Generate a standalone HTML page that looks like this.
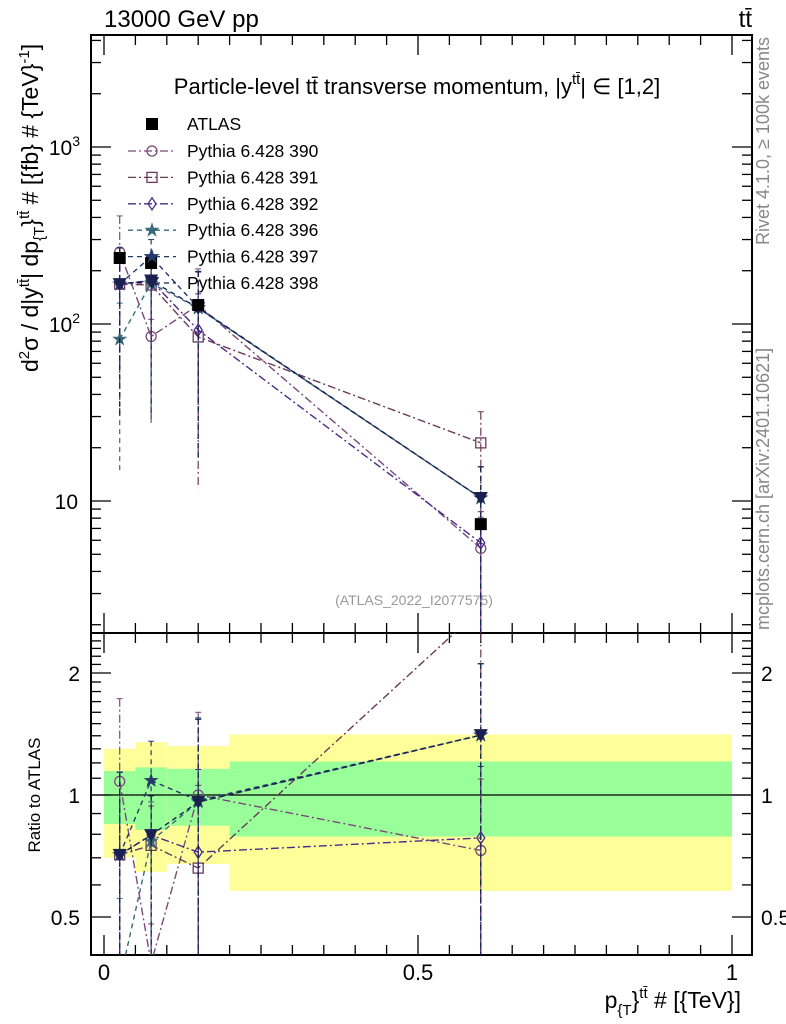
<!DOCTYPE html>
<html><head><meta charset="utf-8">
<style>
html,body{margin:0;background:#fff;overflow:hidden;width:786px;height:1024px;}
svg{display:block;font-family:"Liberation Sans",sans-serif;}
</style></head>
<body>
<svg id="c" width="786" height="1024" viewBox="0 0 786 1024" xmlns="http://www.w3.org/2000/svg">
<g id="bands"></g>
<g id="axes"></g>
<g id="series"></g>
<text x="104" y="27" font-size="24">13000 GeV pp</text>
<text x="752" y="27" font-size="24" text-anchor="end">tt̄</text>
<text x="417" y="94" font-size="22" text-anchor="middle">Particle-level tt̄ transverse momentum, |y<tspan font-size="15" dy="-10">tt̄</tspan><tspan dy="10">| ∈ [1,2]</tspan></text>
<text x="414" y="605" font-size="14" fill="#999" text-anchor="middle">(ATLAS_2022_I2077575)</text>
<text transform="translate(769,245) rotate(-90)" font-size="18" fill="#888">Rivet 4.1.0, ≥ 100k events</text>
<text transform="translate(769,630) rotate(-90)" font-size="18" fill="#888">mcplots.cern.ch [arXiv:2401.10621]</text>
<text transform="translate(38,372) rotate(-90)" font-size="23">d<tspan font-size="15" dy="-9">2</tspan><tspan dy="9">σ / d|y</tspan><tspan font-size="15" dy="-9">tt̄</tspan><tspan dy="9">| dp</tspan><tspan font-size="15" dy="6">{T</tspan><tspan dy="-6">}</tspan><tspan font-size="15" dy="-9">tt̄</tspan><tspan dy="9"> # [{fb} # {TeV}</tspan><tspan font-size="15" dy="-9">-1</tspan><tspan dy="9">]</tspan></text>
<text transform="translate(40,795) rotate(-90)" font-size="17" text-anchor="middle">Ratio to ATLAS</text>
<text x="741" y="1008" font-size="23" text-anchor="end">p<tspan font-size="15" dy="7">{T</tspan><tspan dy="-7">}</tspan><tspan font-size="15" dy="-10">tt̄</tspan><tspan dy="10"> # [{TeV}]</tspan></text>
<g id="legend"></g>
</svg>
<script>
const xs=[0.025,0.075,0.15,0.6];
const binEdges=[0,0.05,0.1,0.2,1.0];
const atlas=[236,221,128,7.4];
const s390=[255,85,128,5.4];
const s391=[168,166,84.5,21.3];
const s392=[168,176,92.5,5.8];
const s396=[82,170,123,10.4];
const s397=[168,240,124,10.4];
const s398=[168,176,123,10.4];
const errHiRel=[1.6,1.25,1.6,1.5];
const errLoRel=[0.25,0.25,0.2,0.05];
const bandYelHi=[1.30,1.35,1.32,1.41];
const bandYelLo=[0.70,0.646,0.676,0.58];
const bandGrnHi=[1.146,1.17,1.16,1.21];
const bandGrnLo=[0.848,0.82,0.84,0.79];
const rTicks=["0.5","1","2"];
const xTicks=["0","0.5","1"];

const NS="http://www.w3.org/2000/svg";
const L=91,R=752,T=35,M=633,B=955;
const X=v=>104+v*628;
const Y=v=>501-(Math.log10(v)-1)*177;
const RY=v=>795-Math.log2(v)*122;
function mk(p,tag,a){const e=document.createElementNS(NS,tag);for(const k in a)e.setAttribute(k,a[k]);p.appendChild(e);return e;}
const ax=document.getElementById('axes'),bd=document.getElementById('bands'),sg=document.getElementById('series'),lg=document.getElementById('legend');

for(let i=0;i<4;i++){
 const x0=X(binEdges[i]),x1=X(binEdges[i+1]);
 let r=mk(bd,'rect',{x:x0,y:RY(bandYelHi[i]),width:x1-x0,height:RY(bandYelLo[i])-RY(bandYelHi[i]),fill:'#ffff99'});
 
 
 r=mk(bd,'rect',{x:x0,y:RY(bandGrnHi[i]),width:x1-x0,height:RY(bandGrnLo[i])-RY(bandGrnHi[i]),fill:'#99ff99'});
 
 
}
mk(ax,'line',{x1:L,x2:R,y1:RY(1),y2:RY(1),stroke:'#000','stroke-width':1.2});
mk(ax,'rect',{x:L,y:T,width:R-L,height:M-T,fill:'none',stroke:'#000','stroke-width':2});
mk(ax,'rect',{x:L,y:M,width:R-L,height:B-M,fill:'none',stroke:'#000','stroke-width':2});
for(let d=0;d<4;d++)for(let m=1;m<10;m++){const v=m*Math.pow(10,d);const y=Y(v);if(y<T||y>M)continue;const len=m==1?20:10;
 mk(ax,'line',{x1:L,x2:L+len,y1:y,y2:y,stroke:'#000','stroke-width':1.3});mk(ax,'line',{x1:R,x2:R-len,y1:y,y2:y,stroke:'#000','stroke-width':1.3});}
[10,100,1000].forEach((v,i)=>{const t=mk(ax,'text',{x:i==0?78:80,y:Y(v)+8,'font-size':21,'text-anchor':'end'});t.textContent='10';
 if(i>0){const s=mk(t,'tspan',{'font-size':14,dy:-9});s.textContent=i==1?'2':'3';}
 
 });
for(let v=0.4;v<=2.5;v+=0.1){const y=RY(v);if(y<M||y>B)continue;const maj=[0.5,1,2].some(q=>Math.abs(q-v)<1e-6);const len=maj?20:10;
 mk(ax,'line',{x1:L,x2:L+len,y1:y,y2:y,stroke:'#000','stroke-width':1.3});mk(ax,'line',{x1:R,x2:R-len,y1:y,y2:y,stroke:'#000','stroke-width':1.3});}
[0.5,1,2].forEach((v,i)=>{const t=mk(ax,'text',{x:80,y:RY(v)+8,'font-size':21,'text-anchor':'end'});t.textContent=rTicks[i];
 
 
 const t2=mk(ax,'text',{x:761,y:RY(v)+8,'font-size':21});t2.textContent=rTicks[i];
 
 });
for(let k=0;k<=20;k++){const v=k*0.05;const x=X(v);const maj=k%10==0;const len=maj?20:10;
 [T,M].forEach(y0=>mk(ax,'line',{x1:x,x2:x,y1:y0,y2:y0+len,stroke:'#000','stroke-width':1.3}));
 [M,B].forEach(y0=>mk(ax,'line',{x1:x,x2:x,y1:y0,y2:y0-len,stroke:'#000','stroke-width':1.3}));}
[0,0.5,1].forEach((v,i)=>{const t=mk(ax,'text',{x:X(v),y:980,'font-size':22,'text-anchor':'middle'});t.textContent=xTicks[i];
 
 });

const series=[
 {n:'390',d:s390,c:'#7a4a7a',dash:'8,3,2,3',m:'circle'},
 {n:'391',d:s391,c:'#6b3a5a',dash:'8,3,2,3',m:'square'},
 {n:'392',d:s392,c:'#4b2a8a',dash:'8,3,2,3',m:'diamond'},
 {n:'396',d:s396,c:'#3a6a7a',dash:'5,4',m:'star'},
 {n:'397',d:s397,c:'#253a6a',dash:'5,4',m:'star'},
 {n:'398',d:s398,c:'#1a2050',dash:'5,4',m:'tri'}];
const clip=mk(document.getElementById('c'),'clipPath',{id:'cm'});mk(clip,'rect',{x:L,y:T,width:R-L,height:M-T});
const clip2=mk(document.getElementById('c'),'clipPath',{id:'cr'});mk(clip2,'rect',{x:L,y:M,width:R-L,height:B-M});
function marker(g,type,x,y,c){
 if(type=='circle')mk(g,'circle',{cx:x,cy:y,r:5,fill:'none',stroke:c,'stroke-width':1.3});
 else if(type=='square')mk(g,'rect',{x:x-5,y:y-5,width:10,height:10,fill:'none',stroke:c,'stroke-width':1.3});
 else if(type=='diamond')mk(g,'path',{d:`M${x},${y-6}L${x+4},${y}L${x},${y+6}L${x-4},${y}Z`,fill:'none',stroke:c,'stroke-width':1.3});
 else if(type=='star'){let p='';for(let k=0;k<10;k++){const r=k%2?3:8,a=-Math.PI/2+k*Math.PI/5;p+=(k?'L':'M')+(x+r*Math.cos(a)).toFixed(1)+','+(y+r*Math.sin(a)).toFixed(1);}mk(g,'path',{d:p+'Z',fill:c});}
 else if(type=='tri')mk(g,'path',{d:`M${x-7},${y-6}L${x+7},${y-6}L${x},${y+7}Z`,fill:c});
 else if(type=='fsq')mk(g,'rect',{x:x-6,y:y-6,width:12,height:12,fill:c});
}
series.forEach((s,si)=>{
 const g=mk(sg,'g',{'clip-path':'url(#cm)'});
 
 
 const gr=mk(sg,'g',{'clip-path':'url(#cr)'});
 
 
 mk(g,'polyline',{points:xs.map((x,i)=>X(x)+','+Y(s.d[i])).join(' '),fill:'none',stroke:s.c,'stroke-width':1.4,'stroke-dasharray':s.dash});
 mk(gr,'polyline',{points:xs.map((x,i)=>X(x)+','+RY(s.d[i]/atlas[i])).join(' '),fill:'none',stroke:s.c,'stroke-width':1.4,'stroke-dasharray':s.dash});
 xs.forEach((x,i)=>{const f=s.d[i]/atlas[i];
  const hi=s.d[i]*errHiRel[i],lo=s.d[i]*errLoRel[i]*(si%2?0.7:1.3);
  mk(g,'line',{x1:X(x),x2:X(x),y1:Y(hi),y2:Y(Math.max(lo,0.5)),stroke:s.c,'stroke-width':1.2,'stroke-dasharray':s.dash});
  mk(g,'line',{x1:X(x)-3,x2:X(x)+3,y1:Y(hi),y2:Y(hi),stroke:s.c});
  const rh=hi/atlas[i],rl=lo/atlas[i];
  mk(gr,'line',{x1:X(x),x2:X(x),y1:RY(rh),y2:RY(Math.max(rl,0.2)),stroke:s.c,'stroke-width':1.2,'stroke-dasharray':s.dash});
  mk(gr,'line',{x1:X(x)-3,x2:X(x)+3,y1:RY(rh),y2:RY(rh),stroke:s.c});
  marker(g,s.m,X(x),Y(s.d[i]),s.c);marker(gr,s.m,X(x),RY(f),s.c);});
 const ly=151+si*26.4;
 mk(lg,'line',{x1:128,x2:176,y1:ly,y2:ly,stroke:s.c,'stroke-width':1.3,'stroke-dasharray':s.dash});
 marker(lg,s.m,152,ly,s.c);
 const t=mk(lg,'text',{x:187,y:ly+6,'font-size':17.5});t.textContent='Pythia 6.428 '+s.n;
 
 
});
const ga=mk(sg,'g',{'clip-path':'url(#cm)'});


xs.forEach((x,i)=>marker(ga,'fsq',X(x),Y(atlas[i]),'#000'));
marker(lg,'fsq',152,124,'#000');
const ta=mk(lg,'text',{x:187,y:130,'font-size':17.5});ta.textContent='ATLAS';


</script>
</body></html>
